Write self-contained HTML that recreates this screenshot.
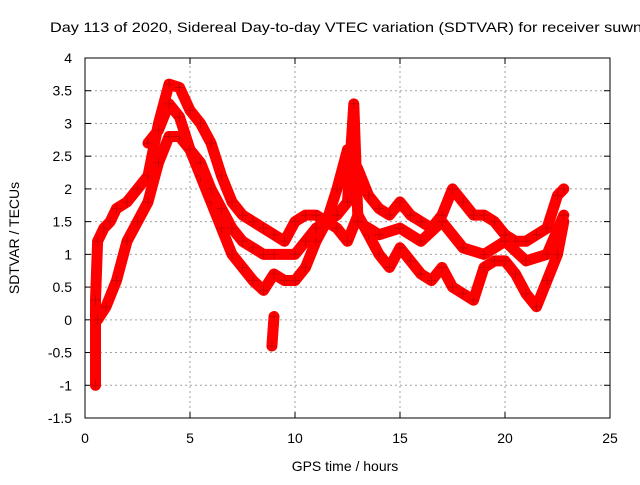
<!DOCTYPE html>
<html><head><meta charset="utf-8"><style>
body{margin:0;background:#fff;}
svg text{font-family:"Liberation Sans",sans-serif;font-size:14px;fill:#000;}
</style></head><body>
<svg id="chart" width="640" height="480" xmlns="http://www.w3.org/2000/svg">
<rect width="640" height="480" fill="#fff"/>
<text x="50" y="32" textLength="592" lengthAdjust="spacingAndGlyphs">Day 113 of 2020, Sidereal Day-to-day VTEC variation (SDTVAR) for receiver suwn</text>
<g id="grid"></g>
<g id="axes"></g>
<g id="series"></g>
<rect x="85" y="58" width="525" height="360" fill="none" stroke="#000" stroke-width="1"/>
<text x="345" y="471" text-anchor="middle">GPS time / hours</text>
<text transform="translate(19,238) rotate(-90)" text-anchor="middle">SDTVAR / TECUs</text>
</svg>
<script>
const xTicks=[0,5,10,15,20,25];
const yTicks=[-1.5,-1,-0.5,0,0.5,1,1.5,2,2.5,3,3.5,4];
const traceAx=[0.5,0.5,0.6,0.9,1.2,1.5,2,2.5,3,3.5,4,4.5,5,5.5,6,6.5,7,7.5,8,8.5,9,9.5,10,10.5,11,11.5,12,12.5,13,13.5,14,14.5,15,15.5,16,16.5,17,17.5,18,18.5,19,19.5,20,20.5,21,21.5,22,22.5,22.8];
const traceAy=[-1.0,0.3,1.2,1.4,1.5,1.7,1.8,2.0,2.2,3.0,3.6,3.55,3.2,3.0,2.7,2.2,1.8,1.6,1.5,1.4,1.3,1.2,1.5,1.6,1.6,1.5,2.0,2.6,2.3,1.9,1.7,1.6,1.8,1.6,1.5,1.4,1.6,2.0,1.8,1.6,1.6,1.5,1.3,1.2,1.2,1.3,1.4,1.9,2.0];
const traceBx=[0.6,1,1.5,2,2.5,3,3.5,4,4.5,5,5.5,6,6.5,7,7.5,8,8.5,9,9.5,10,10.5,11,11.5,12,12.5,13,13.5,14,14.5,15,15.5,16,16.5,17,17.5,18,18.5,19,19.5,20,20.5,21,21.5,22,22.5,22.8];
const traceBy=[0,0.2,0.6,1.2,1.5,1.8,2.4,2.8,2.8,2.6,2.2,1.8,1.4,1.0,0.8,0.6,0.45,0.7,0.6,0.6,0.8,1.2,1.5,1.4,1.2,1.6,1.3,1.0,0.8,1.1,0.9,0.7,0.6,0.8,0.5,0.4,0.3,0.8,0.9,0.9,0.7,0.4,0.2,0.6,1.0,1.5];
const traceCx=[3,3.5,4,4.5,5,5.5,6,6.5,7,7.5,8,8.5,9,10,10.5,11,12,12.5,12.8,13,14,15,16,17,18,19,20,21,22,22.8];
const traceCy=[2.7,2.9,3.3,3.1,2.6,2.4,2.0,1.7,1.4,1.2,1.1,1.0,1.0,1.0,1.2,1.4,1.6,1.8,3.3,1.5,1.3,1.4,1.2,1.5,1.1,1.0,1.2,0.9,1.0,1.6];
const traceDx=[8.9,9.0];
const traceDy=[-0.4,0.05];

const X0=85,X1=610,Y0=418,Y1=58,xmin=0,xmax=25,ymin=-1.5,ymax=4;
const sx=v=>X0+(v-xmin)/(xmax-xmin)*(X1-X0);
const sy=v=>Y0-(v-ymin)/(ymax-ymin)*(Y0-Y1);
const NS="http://www.w3.org/2000/svg";
const mk=(t,a,p)=>{const e=document.createElementNS(NS,t);for(const k in a)e.setAttribute(k,a[k]);p.appendChild(e);return e;};
const grid=document.getElementById('grid'),axes=document.getElementById('axes'),ser=document.getElementById('series');
xTicks.forEach(t=>{
  const x=sx(t);
  if(t>xmin&&t<xmax){const g=mk('line',{x1:x,x2:x,y1:Y0,y2:Y1,stroke:'#a0a0a0','stroke-dasharray':'2,3'},grid);
  
  }
  mk('line',{x1:x,x2:x,y1:Y0,y2:Y0-6,stroke:'#000'},axes);
  mk('line',{x1:x,x2:x,y1:Y1,y2:Y1+6,stroke:'#000'},axes);
  const l=mk('text',{x:x,y:Y0+25,'text-anchor':'middle'},axes);l.textContent=t;
  
  
});
yTicks.forEach(t=>{
  const y=sy(t);
  if(t>ymin&&t<ymax){const g=mk('line',{x1:X0,x2:X1,y1:y,y2:y,stroke:'#a0a0a0','stroke-dasharray':'2,3'},grid);
  
  }
  mk('line',{x1:X0,x2:X0+6,y1:y,y2:y,stroke:'#000'},axes);
  mk('line',{x1:X1,x2:X1-6,y1:y,y2:y,stroke:'#000'},axes);
  const l=mk('text',{x:X0-13,y:y+5,'text-anchor':'end'},axes);l.textContent=t;
  
  
});
[[traceAx,traceAy],[traceBx,traceBy],[traceCx,traceCy],[traceDx,traceDy]].forEach((tr,i)=>{
  const pts=tr[0].map((x,j)=>sx(x)+','+sy(tr[1][j])).join(' ');
  const pl=mk('polyline',{points:pts,fill:'none',stroke:'#ff0000','stroke-width':11,'stroke-linejoin':'round','stroke-linecap':'round'},ser);
  
  
  tr[0].forEach((x,j)=>{
    const cx=sx(x),cy=sy(tr[1][j]);
    const p=mk('path',{d:`M${cx-5},${cy}H${cx+5}M${cx},${cy-5}V${cy+5}`,stroke:'#cc0000','stroke-width':1},ser);
    
    
  });
});
</script>
</body></html>
